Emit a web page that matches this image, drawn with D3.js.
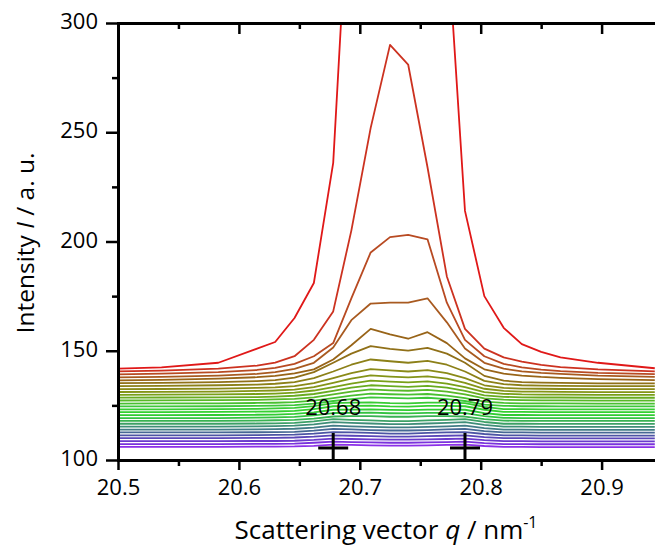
<!DOCTYPE html>
<html><head><meta charset="utf-8">
<script src="https://cdn.jsdelivr.net/npm/d3@7"></script>
<style>html,body{margin:0;padding:0;background:#fff;overflow:hidden}</style>
</head><body>
<svg id="chart" width="655" height="547"></svg>
<script>
// Scattering vector grid (nm^-1)
const q = [20.489, 20.536, 20.583, 20.615, 20.630, 20.646, 20.662, 20.678, 20.693, 20.709, 20.725, 20.740, 20.756, 20.772, 20.787, 20.803, 20.819, 20.834, 20.850, 20.866, 20.897, 20.944];

// Intensity curves, bottom (violet) to top (red)
const c00 = [106.0,106.0,106.0,106.1,106.1,106.2,106.5,107.0,106.9,106.7,106.6,106.6,106.7,106.9,107.0,106.4,106.0,106.0,105.9,105.9,105.9,105.9];
const c01 = [107.3,107.3,107.3,107.4,107.4,107.5,107.9,108.4,108.2,108.1,107.9,107.9,108.1,108.2,108.4,107.7,107.3,107.3,107.2,107.2,107.2,107.2];
const c02 = [108.6,108.6,108.6,108.7,108.7,108.8,109.2,109.8,109.6,109.4,109.3,109.3,109.4,109.6,109.8,109.1,108.6,108.6,108.5,108.5,108.5,108.5];
const c03 = [110.0,110.0,110.0,110.1,110.1,110.3,110.7,111.3,111.1,110.9,110.7,110.7,110.9,111.1,111.3,110.5,110.0,110.0,109.9,109.9,109.9,109.9];
const c04 = [111.3,111.3,111.3,111.4,111.5,111.6,112.1,112.8,112.6,112.4,112.1,112.1,112.4,112.6,112.8,111.9,111.3,111.3,111.2,111.2,111.2,111.2];
const c05 = [112.6,112.6,112.6,112.7,112.8,112.9,113.4,114.2,114.0,113.7,113.5,113.5,113.7,114.0,114.2,113.2,112.6,112.6,112.5,112.5,112.5,112.5];
const c06 = [113.9,113.9,113.9,114.0,114.1,114.3,114.8,115.7,115.4,115.2,114.9,114.9,115.2,115.4,115.7,114.6,113.9,113.9,113.8,113.8,113.8,113.8];
const c07 = [115.3,115.3,115.3,115.4,115.5,115.7,116.3,117.3,117.0,116.7,116.4,116.4,116.7,117.0,117.3,116.1,115.3,115.3,115.2,115.2,115.2,115.2];
const c08 = [116.6,116.6,116.6,116.7,116.8,117.0,117.7,118.7,118.4,118.1,117.8,117.8,118.1,118.4,118.7,117.4,116.6,116.6,116.5,116.5,116.5,116.5];
const c09 = [117.9,117.9,117.9,118.0,118.2,118.4,118.9,119.9,120.1,120.1,119.8,119.8,120.1,120.1,119.9,118.7,118.0,117.9,117.9,117.9,117.9,117.9];
const c10 = [119.2,119.2,119.2,119.4,119.5,119.7,120.4,121.5,121.6,121.7,121.4,121.3,121.6,121.6,121.5,120.1,119.3,119.2,119.2,119.2,119.2,119.2];
const c11 = [120.5,120.5,120.6,120.7,120.8,121.1,121.8,123.0,123.1,123.2,122.9,122.8,123.1,123.1,123.0,121.5,120.6,120.6,120.5,120.5,120.5,120.5];
const c12 = [121.9,121.9,122.0,122.1,122.2,122.5,123.3,124.6,124.8,124.9,124.5,124.4,124.8,124.8,124.6,123.0,122.0,122.0,121.9,121.9,121.9,121.9];
const c13 = [123.2,123.2,123.3,123.4,123.6,123.9,124.7,126.0,126.3,126.4,126.0,125.9,126.3,126.3,126.0,124.3,123.3,123.3,123.2,123.2,123.2,123.2];
const c14 = [124.5,124.5,124.6,124.8,124.9,125.1,125.8,127.0,127.9,128.7,128.4,128.2,128.5,127.9,127.0,125.3,124.8,124.6,124.6,124.5,124.5,124.5];
const c15 = [125.8,125.9,125.9,126.1,126.2,126.5,127.2,128.3,129.5,130.4,130.1,129.9,130.2,129.5,128.3,126.7,126.1,125.9,125.9,125.9,125.8,125.8];
const c16 = [127.2,127.3,127.4,127.5,127.7,128.0,128.7,130.0,131.3,132.3,131.9,131.7,132.1,131.3,130.0,128.2,127.6,127.4,127.3,127.3,127.2,127.2];
const c17 = [128.5,128.6,128.7,128.8,129.0,129.4,130.2,131.6,133.1,134.2,133.8,133.5,133.9,133.1,131.6,129.6,128.9,128.7,128.6,128.6,128.5,128.5];
const c18 = [129.8,129.9,130.0,130.2,130.4,130.8,131.8,133.4,135.0,136.3,135.9,135.5,136.0,135.0,133.4,131.1,130.3,130.0,129.9,129.9,129.8,129.8];
const c19 = [131.1,131.2,131.3,131.6,131.8,132.2,133.4,135.3,137.2,138.7,138.2,137.8,138.3,137.2,135.3,132.6,131.6,131.3,131.3,131.2,131.1,131.1];
const c20 = [132.4,132.5,132.7,133.0,133.2,133.8,135.2,137.5,139.8,141.6,141.0,140.5,141.1,139.8,137.5,134.2,133.0,132.7,132.6,132.5,132.4,132.4];
const c21 = [133.8,133.9,134.2,134.5,134.9,135.6,137.5,140.5,143.6,146.0,145.2,144.5,145.4,143.6,140.5,136.2,134.7,134.2,134.0,133.9,133.8,133.8];
const c22 = [135.1,135.3,135.6,136.1,136.6,137.7,140.2,144.5,148.7,152.1,150.9,150.1,151.3,148.7,144.5,138.5,136.3,135.6,135.4,135.3,135.1,135.1];
const c23 = [136.4,136.7,137.2,137.9,138.5,139.6,141.5,146.0,152.5,160.0,157.5,155.5,158.5,153.5,146.5,141.5,139.5,138.6,138.0,137.6,137.0,136.6];
const c24 = [137.7,138.0,138.6,139.4,140.2,141.7,144.5,151.5,164.0,171.6,172.0,172.0,174.0,163.0,151.0,144.5,141.8,140.6,139.9,139.4,138.6,138.0];
const c25 = [139.1,139.5,140.2,141.2,142.2,144.0,147.5,153.5,174.0,195.0,202.0,203.0,201.0,172.0,155.0,147.5,144.0,142.4,141.4,140.7,139.9,139.3];
const c26 = [140.4,140.9,141.8,143.2,144.6,147.5,155.0,168.0,205.0,252.0,290.0,281.0,234.0,184.0,160.0,151.0,147.0,145.0,143.5,142.5,141.5,140.6];
const c27 = [141.6,142.4,144.5,151.0,154.0,165.0,181.0,236.0,385.0,450.0,480.0,470.0,420.0,343.0,214.0,175.0,160.5,153.0,149.5,147.0,144.5,142.0];
const curves = [c00,c01,c02,c03,c04,c05,c06,c07,c08,c09,c10,c11,c12,c13,c14,c15,c16,c17,c18,c19,c20,c21,c22,c23,c24,c25,c26,c27];

// Annotated peak positions
const markerQ = [20.678, 20.787];
const markerLabels = ["20.68", "20.79"];
const markerI = 105.5;

// Tick values
const xMajor = [20.5, 20.6, 20.7, 20.8, 20.9];
const xMinor = [20.55, 20.65, 20.75, 20.85];
const yMajor = [100, 150, 200, 250, 300];
const yMinor = [125, 175, 225, 275];

// Styles
const lineColors = ["#8b2fe8","#7a32dc","#6a3acc","#5a46b8","#4c54a4","#466894","#427c86","#3f8e78","#3ca066","#38b252","#34c242","#30cc32","#34d030","#38cc34","#3cc83a","#48c030","#58b828","#68ac20","#78a018","#849418","#8a8a18","#8c8018","#907018","#986418","#a85a20","#b84a22","#cc3220","#e01818"];
const FONT = "'Open Sans', 'DejaVu Sans', sans-serif";

const svg = d3.select("#chart");
const x = d3.scaleLinear().domain([20.5, 20.95]).range([118, 118 + 0.45 * 1209]);
const y = d3.scaleLinear().domain([100, 300]).range([460, 23]);

svg.append("defs").append("clipPath").attr("id", "plotclip")
  .append("rect").attr("x", 118).attr("y", 23).attr("width", 560).attr("height", 437);

const line = d3.line().x((d, i) => x(q[i])).y(d => y(d));
svg.append("g").attr("clip-path", "url(#plotclip)")
  .selectAll("path").data(curves).join("path")
  .attr("d", line)
  .attr("fill", "none")
  .attr("stroke", (d, i) => lineColors[i])
  .attr("stroke-width", 1.8)
  .attr("stroke-linejoin", "round");

// markers
const mk = svg.append("g");
markerQ.forEach((m, k) => {
  const cx = x(m), cy = y(markerI);
  mk.append("line").attr("x1", cx).attr("x2", cx).attr("y1", cy - 15).attr("y2", cy + 11)
    .attr("stroke", "#000").attr("stroke-width", 3);
  mk.append("line").attr("x1", cx - 15).attr("x2", cx + 15).attr("y1", cy).attr("y2", cy)
    .attr("stroke", "#000").attr("stroke-width", 3);
  mk.append("text").attr("x", cx).attr("y", cy - 33).attr("text-anchor", "middle")
    .attr("font-family", FONT).attr("font-size", 22).attr("fill", "#000").text(markerLabels[k]);
});

function styleAxis(g) {
  g.select(".domain").attr("stroke-width", 3).attr("stroke-linecap", "square");
  g.selectAll(".tick line").attr("stroke-width", 2.5);
  g.selectAll("text").attr("font-family", FONT).attr("font-size", 22).attr("fill", "#000");
}

// Left axis
const gl = svg.append("g").attr("transform", "translate(118,0)")
  .call(d3.axisLeft(y).tickValues(yMajor).tickSize(12).tickSizeOuter(0).tickPadding(8).tickFormat(d3.format("d")));
styleAxis(gl);
gl.selectAll("text").attr("dy", "0.25em");
const glm = svg.append("g").attr("transform", "translate(118,0)")
  .call(d3.axisLeft(y).tickValues(yMinor).tickSize(6).tickSizeOuter(0).tickFormat(""));
styleAxis(glm);

// Bottom axis
const gb = svg.append("g").attr("transform", "translate(0,460)")
  .call(d3.axisBottom(x).tickValues(xMajor).tickSize(10).tickSizeOuter(0).tickFormat(d3.format(".1f")));
styleAxis(gb);
gb.selectAll("text").attr("y", 35).attr("dy", 0);
const gbm = svg.append("g").attr("transform", "translate(0,460)")
  .call(d3.axisBottom(x).tickValues(xMinor).tickSize(6).tickSizeOuter(0).tickFormat(""));
styleAxis(gbm);

// Top axis (ticks inward, no labels)
const gt = svg.append("g").attr("transform", "translate(0,23)")
  .call(d3.axisBottom(x).tickValues(xMajor).tickSize(11).tickSizeOuter(0).tickFormat(""));
styleAxis(gt);
const gtm = svg.append("g").attr("transform", "translate(0,23)")
  .call(d3.axisBottom(x).tickValues(xMinor).tickSize(6).tickSizeOuter(0).tickFormat(""));
styleAxis(gtm);

// Axis titles
const yt = svg.append("text").attr("transform", "translate(34,243) rotate(-90)")
  .attr("text-anchor", "middle").attr("font-family", FONT).attr("font-size", 24.5).attr("fill", "#000");
yt.append("tspan").text("Intensity ");
yt.append("tspan").attr("font-style", "italic").text("I");
yt.append("tspan").text(" / a. u.");

const xt = svg.append("text").attr("x", 386).attr("y", 539)
  .attr("text-anchor", "middle").attr("font-family", FONT).attr("font-size", 26).attr("fill", "#000");
xt.append("tspan").text("Scattering vector ");
xt.append("tspan").attr("font-style", "italic").text("q");
xt.append("tspan").text(" / nm");
xt.append("tspan").attr("font-size", 16).attr("dy", -11).text("-1");
</script>
</body></html>
